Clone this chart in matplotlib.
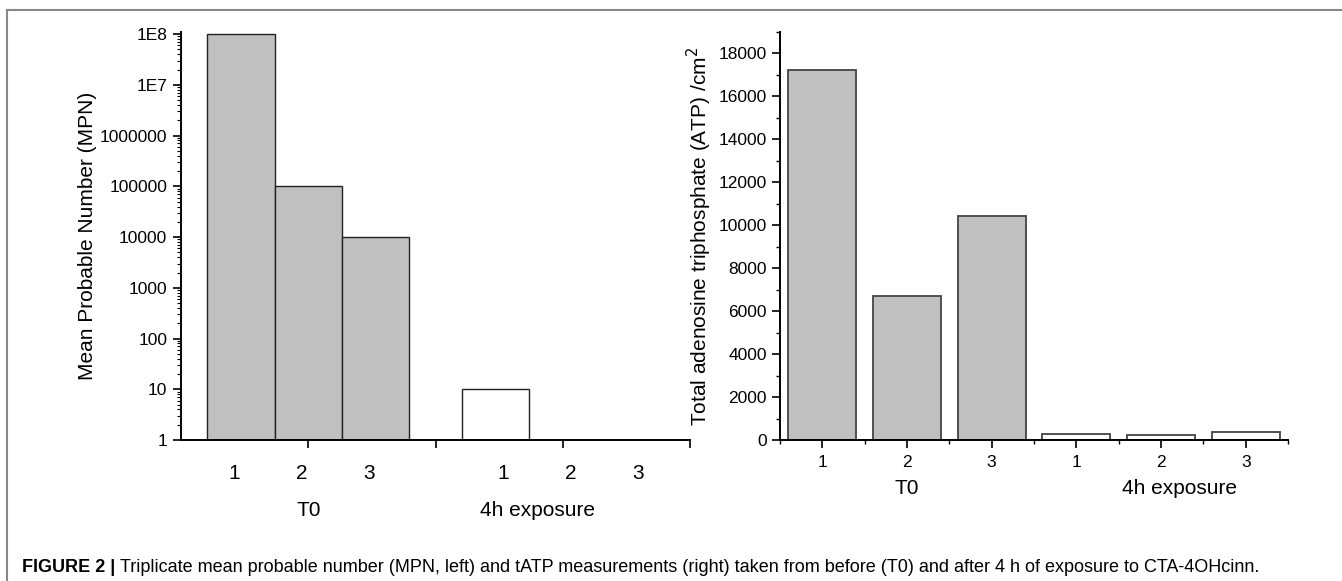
"""Figure 2: MPN (log) and tATP bars before/after 4 h exposure."""
import matplotlib

matplotlib.use("Agg")
import matplotlib.pyplot as plt
from matplotlib.lines import Line2D
from matplotlib.ticker import FixedLocator, FixedFormatter, LogLocator, NullFormatter, MultipleLocator

plt.rcParams["font.family"] = ["Liberation Sans", "DejaVu Sans"]

# --- data -------------------------------------------------------------------
replicates = ["1", "2", "3"]
groups = ["T0", "4h exposure"]
mpn_t0 = [1e8, 1e5, 1e4]
mpn_4h = [10, 1, 1]
atp_t0 = [17250, 6700, 10430]
atp_4h = [290, 220, 360]
mpn_ticks = [1, 10, 100, 1000, 10000, 100000, 1000000, 1e7, 1e8]
mpn_ticklabels = ["1", "10", "100", "1000", "10000", "100000", "1000000", "1E7", "1E8"]
atp_ticks = [0, 2000, 4000, 6000, 8000, 10000, 12000, 14000, 16000, 18000]

caption_bold = "FIGURE 2 | "
caption_rest = ("Triplicate mean probable number (MPN, left) and tATP measurements (right) "
                "taken from before (T0) and after 4 h of exposure to CTA-4OHcinn.")

GRAY = "#c0c0c0"

fig = plt.figure(figsize=(13.42, 5.81), dpi=100)

# --- left: MPN on log axis ---------------------------------------------------
ax1 = fig.add_axes([0.1349, 0.2427, 0.3793, 0.7022])
width1 = 0.53
offsets = [-width1, 0, width1]
x_t0 = [1 + o for o in offsets]
x_4h = [3 + o for o in offsets]
ax1.bar(x_t0, [v - 1 for v in mpn_t0], bottom=1, width=width1, color=GRAY,
        edgecolor="#222222", linewidth=1.0)
ax1.bar(x_4h[:1], [v - 1 for v in mpn_4h[:1]], bottom=1, width=width1, color="white",
        edgecolor="#222222", linewidth=1.0)
ax1.set_yscale("log")
ax1.set_ylim(1, 1.1e8)
ax1.set_xlim(0, 4)
ax1.yaxis.set_major_locator(FixedLocator(mpn_ticks))
ax1.yaxis.set_major_formatter(FixedFormatter(mpn_ticklabels))
ax1.yaxis.set_minor_locator(LogLocator(base=10, subs=range(2, 10), numticks=20))
ax1.yaxis.set_minor_formatter(NullFormatter())
ax1.set_xticks([1, 2, 3, 4])
ax1.set_xticklabels([])
ax1.tick_params(axis="y", which="major", length=6, width=1.2, labelsize=12.5, pad=4)
ax1.tick_params(axis="y", which="minor", length=3, width=0.8)
ax1.tick_params(axis="x", which="major", length=6, width=1.2)
for s in ("top", "right"):
    ax1.spines[s].set_visible(False)
for s in ("left", "bottom"):
    ax1.spines[s].set_linewidth(1.4)
ax1.set_ylabel("Mean Probable Number (MPN)", fontsize=15)
ax1.yaxis.set_label_coords(-0.165, 0.5)

tr1 = ax1.get_xaxis_transform()
for x, lab in zip(x_t0, replicates):
    ax1.text(x - 0.05, -0.081, lab, transform=tr1, ha="center", va="center", fontsize=15)
for x, lab in zip(x_4h, replicates):
    ax1.text(x + 0.06, -0.081, lab, transform=tr1, ha="center", va="center", fontsize=15)
ax1.text(1.0, -0.172, groups[0], transform=tr1, ha="center", va="center", fontsize=15)
ax1.text(2.8, -0.172, groups[1], transform=tr1, ha="center", va="center", fontsize=15)

# --- right: tATP -------------------------------------------------------------
ax2 = fig.add_axes([0.5812, 0.2427, 0.3786, 0.7022])
pos = list(range(1, 7))
ax2.bar(pos[:3], atp_t0, width=0.8, color=GRAY, edgecolor="#444444", linewidth=1.3)
ax2.bar(pos[3:], atp_4h, width=0.8, color="white", edgecolor="#444444", linewidth=1.3)
ax2.set_xlim(0.5, 6.5)
ax2.set_ylim(0, 19000)
ax2.set_yticks(atp_ticks)
ax2.yaxis.set_minor_locator(MultipleLocator(1000))
ax2.set_xticks(pos)
ax2.set_xticklabels(replicates * 2)
ax2.xaxis.set_minor_locator(MultipleLocator(1.0, offset=0.5))
ax2.tick_params(axis="both", which="major", length=6, width=1.2, labelsize=12.5)
ax2.tick_params(axis="x", which="major", pad=5)
ax2.tick_params(axis="both", which="minor", length=3, width=1.0)
for s in ("top", "right"):
    ax2.spines[s].set_visible(False)
for s in ("left", "bottom"):
    ax2.spines[s].set_linewidth(1.4)
ax2.set_ylabel("Total adenosine triphosphate (ATP) /cm$^2$", fontsize=15)
ax2.yaxis.set_label_coords(-0.13, 0.5)

tr2 = ax2.get_xaxis_transform()
ax2.text(2.0, -0.118, groups[0], transform=tr2, ha="center", va="center", fontsize=15)
ax2.text(5.22, -0.118, groups[1], transform=tr2, ha="center", va="center", fontsize=15)

# --- frame and caption -------------------------------------------------------
W, H = 1342, 581
fig.add_artist(Line2D([7 / W, 7 / W], [0, 1 - 10 / H], color="#888888", lw=1.5))
fig.add_artist(Line2D([7 / W, 1], [1 - 10 / H, 1 - 10 / H], color="#888888", lw=1.5))

cap_y = 1 - 567 / H
t1 = fig.text(22 / W, cap_y, caption_bold, fontsize=13, fontweight="bold", va="center")
fig.canvas.draw()
bb = t1.get_window_extent()
fig.text(bb.x1 / W, cap_y, caption_rest, fontsize=13, va="center")

fig.savefig("out.png", dpi=100)
